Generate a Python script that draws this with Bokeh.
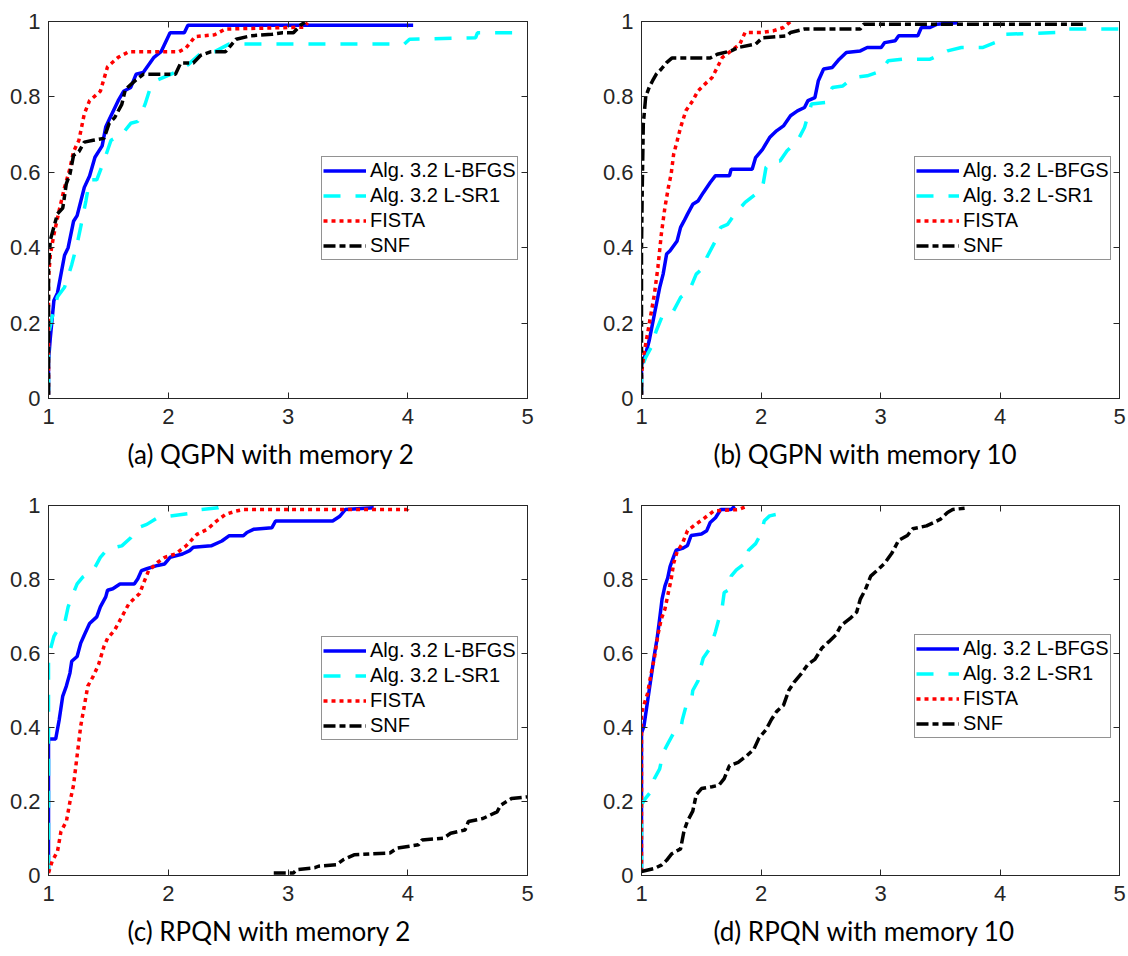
from bokeh.plotting import figure
from bokeh.layouts import gridplot
from bokeh.models import LinearAxis, FixedTicker, Range1d, CustomLabelingPolicy
from bokeh.embed import file_html
from bokeh.resources import INLINE

# ---------------- data (performance profiles) ----------------
X_TICKS = [1, 2, 3, 4, 5]
Y_TICKS = [0, 0.2, 0.4, 0.6, 0.8, 1]
SERIES_NAMES = ["Alg. 3.2 L-BFGS", "Alg. 3.2 L-SR1", "FISTA", "SNF"]
TITLES = ["(a) QGPN with memory 2", "(b) QGPN with memory 10",
          "(c) RPQN with memory 2", "(d) RPQN with memory 10"]

# (a) QGPN, memory 2
A_BFGS_X = [1.0, 1.0, 1.015, 1.045, 1.075, 1.134, 1.164, 1.209, 1.239, 1.299, 1.343, 1.388, 1.448, 1.478, 1.507, 1.582, 1.627, 1.687, 1.731, 1.791, 1.881, 1.940, 2.015, 2.134, 2.164, 4.045]
A_BFGS_Y = [0.01, 0.10, 0.16, 0.26, 0.28, 0.38, 0.40, 0.47, 0.485, 0.56, 0.59, 0.64, 0.67, 0.72, 0.74, 0.79, 0.815, 0.825, 0.86, 0.865, 0.905, 0.92, 0.97, 0.97, 0.99, 0.99]
A_SR1_X = [1.0, 1.0, 1.03, 1.075, 1.134, 1.194, 1.239, 1.269, 1.313, 1.343, 1.403, 1.463, 1.522, 1.612, 1.687, 1.746, 1.806, 1.851, 1.910, 1.985, 2.090, 2.164, 2.269, 2.388, 2.507, 3.970, 4.015, 4.567, 4.582, 5.0]
A_SR1_Y = [0.01, 0.17, 0.215, 0.27, 0.295, 0.355, 0.41, 0.455, 0.525, 0.58, 0.58, 0.63, 0.685, 0.70, 0.73, 0.735, 0.78, 0.825, 0.845, 0.855, 0.87, 0.885, 0.915, 0.92, 0.94, 0.94, 0.953, 0.957, 0.97, 0.97]
A_FISTA_X = [1.0, 1.0, 1.015, 1.045, 1.09, 1.134, 1.179, 1.209, 1.254, 1.299, 1.343, 1.433, 1.493, 1.582, 1.672, 2.090, 2.149, 2.224, 2.388, 2.478, 3.134, 3.164]
A_FISTA_Y = [0.01, 0.32, 0.38, 0.435, 0.50, 0.56, 0.61, 0.655, 0.685, 0.755, 0.79, 0.815, 0.88, 0.905, 0.92, 0.92, 0.93, 0.96, 0.965, 0.98, 0.985, 0.997]
A_SNF_X = [1.0, 1.0, 1.015, 1.045, 1.075, 1.119, 1.149, 1.179, 1.209, 1.254, 1.299, 1.373, 1.463, 1.507, 1.552, 1.612, 1.642, 1.731, 1.791, 2.060, 2.104, 2.209, 2.269, 2.358, 2.478, 2.567, 2.687, 2.866, 2.955, 3.045, 3.104, 3.149]
A_SNF_Y = [0.01, 0.35, 0.42, 0.455, 0.49, 0.505, 0.57, 0.595, 0.645, 0.655, 0.68, 0.685, 0.69, 0.73, 0.745, 0.78, 0.82, 0.845, 0.86, 0.86, 0.89, 0.89, 0.91, 0.92, 0.92, 0.953, 0.962, 0.966, 0.97, 0.97, 0.99, 1.0]

# (b) QGPN, memory 10
B_BFGS_X = [1.0, 1.0, 1.035, 1.064, 1.108, 1.152, 1.181, 1.21, 1.239, 1.298, 1.327, 1.356, 1.385, 1.429, 1.473, 1.517, 1.575, 1.619, 1.736, 1.75, 1.926, 1.955, 2.013, 2.072, 2.13, 2.188, 2.247, 2.305, 2.364, 2.393, 2.451, 2.48, 2.524, 2.597, 2.655, 2.714, 2.831, 2.889, 3.006, 3.035, 3.123, 3.152, 3.312, 3.342, 3.415, 3.473, 3.648]
B_BFGS_Y = [0.01, 0.09, 0.118, 0.153, 0.224, 0.294, 0.33, 0.383, 0.392, 0.418, 0.454, 0.471, 0.489, 0.515, 0.524, 0.546, 0.573, 0.591, 0.591, 0.608, 0.608, 0.639, 0.661, 0.692, 0.71, 0.723, 0.75, 0.763, 0.772, 0.79, 0.798, 0.843, 0.874, 0.878, 0.9, 0.918, 0.922, 0.931, 0.931, 0.944, 0.949, 0.962, 0.962, 0.984, 0.984, 0.993, 0.997]
B_SR1_X = [1.0, 1.0, 1.035, 1.079, 1.123, 1.181, 1.269, 1.327, 1.4, 1.458, 1.517, 1.546, 1.619, 1.663, 1.721, 1.78, 1.867, 1.955, 2.013, 2.042, 2.101, 2.159, 2.218, 2.305, 2.364, 2.422, 2.539, 2.597, 2.685, 2.772, 2.889, 3.006, 3.064, 3.181, 3.415, 3.502, 3.561, 3.677, 3.853, 4.0, 4.042, 4.495, 4.539, 5.0]
B_SR1_Y = [0.01, 0.08, 0.109, 0.135, 0.179, 0.224, 0.233, 0.268, 0.286, 0.33, 0.347, 0.374, 0.418, 0.454, 0.462, 0.489, 0.52, 0.542, 0.56, 0.613, 0.63, 0.63, 0.657, 0.683, 0.719, 0.781, 0.785, 0.825, 0.829, 0.851, 0.856, 0.869, 0.896, 0.9, 0.9, 0.913, 0.922, 0.931, 0.931, 0.949, 0.966, 0.971, 0.98, 0.98]
B_FISTA_X = [1.0, 1.0, 1.02, 1.05, 1.079, 1.108, 1.137, 1.166, 1.196, 1.225, 1.248, 1.269, 1.298, 1.327, 1.371, 1.429, 1.473, 1.531, 1.59, 1.634, 1.677, 1.75, 1.823, 1.867, 2.013, 2.101, 2.188, 2.247]
B_FISTA_Y = [0.01, 0.065, 0.118, 0.171, 0.224, 0.277, 0.347, 0.436, 0.507, 0.56, 0.595, 0.648, 0.683, 0.719, 0.763, 0.79, 0.816, 0.834, 0.851, 0.878, 0.905, 0.922, 0.94, 0.971, 0.971, 0.975, 0.984, 1.0]
B_SNF_X = [1.0, 1.0, 1.006, 1.015, 1.035, 1.064, 1.093, 1.123, 1.166, 1.21, 1.254, 1.575, 1.634, 1.75, 1.809, 1.955, 2.013, 2.218, 2.247, 2.364, 2.831, 2.86, 4.699, 4.714]
B_SNF_Y = [0.01, 0.40, 0.55, 0.727, 0.80, 0.825, 0.843, 0.86, 0.874, 0.891, 0.903, 0.903, 0.913, 0.922, 0.931, 0.94, 0.957, 0.962, 0.971, 0.98, 0.98, 0.993, 0.993, 1.0]

# (c) RPQN, memory 2
C_BFGS_X = [1.0, 1.0, 1.06, 1.09, 1.119, 1.149, 1.179, 1.194, 1.239, 1.269, 1.299, 1.343, 1.403, 1.433, 1.478, 1.493, 1.537, 1.597, 1.716, 1.746, 1.776, 1.821, 1.91, 1.97, 2.015, 2.119, 2.179, 2.209, 2.358, 2.448, 2.507, 2.627, 2.657, 2.716, 2.866, 2.896, 3.373, 3.433, 3.478, 3.716]
C_BFGS_Y = [0.01, 0.369, 0.369, 0.422, 0.485, 0.512, 0.547, 0.579, 0.592, 0.628, 0.65, 0.681, 0.699, 0.726, 0.753, 0.771, 0.775, 0.788, 0.788, 0.802, 0.824, 0.829, 0.838, 0.842, 0.86, 0.869, 0.878, 0.887, 0.891, 0.904, 0.918, 0.918, 0.927, 0.936, 0.94, 0.958, 0.958, 0.971, 0.989, 0.994]
C_SR1_X = [1.0, 1.0, 1.015, 1.045, 1.09, 1.134, 1.164, 1.194, 1.239, 1.284, 1.328, 1.388, 1.433, 1.493, 1.612, 1.687, 1.746, 1.821, 1.91, 2.209, 2.269, 2.418, 2.463]
C_SR1_Y = [0.01, 0.583, 0.61, 0.646, 0.672, 0.681, 0.726, 0.753, 0.788, 0.806, 0.815, 0.833, 0.86, 0.882, 0.891, 0.913, 0.94, 0.949, 0.967, 0.98, 0.989, 0.994, 1.0]
C_FISTA_X = [1.0, 1.03, 1.075, 1.104, 1.149, 1.179, 1.209, 1.239, 1.269, 1.299, 1.328, 1.373, 1.418, 1.463, 1.493, 1.552, 1.612, 1.672, 1.761, 1.791, 1.836, 1.91, 1.97, 2.06, 2.149, 2.239, 2.328, 2.403, 2.478, 2.567, 2.627, 4.0, 4.0]
C_FISTA_Y = [0.007, 0.038, 0.065, 0.119, 0.146, 0.199, 0.244, 0.324, 0.404, 0.458, 0.512, 0.538, 0.57, 0.619, 0.641, 0.663, 0.699, 0.735, 0.762, 0.788, 0.824, 0.846, 0.86, 0.869, 0.891, 0.922, 0.936, 0.958, 0.976, 0.985, 0.989, 0.989, 0.998]
C_SNF_X = [2.881, 3.045, 3.075, 3.224, 3.254, 3.403, 3.463, 3.552, 3.851, 3.91, 4.09, 4.119, 4.299, 4.358, 4.478, 4.507, 4.627, 4.746, 4.776, 4.866, 5.0]
C_SNF_Y = [0.007, 0.007, 0.016, 0.021, 0.025, 0.029, 0.043, 0.056, 0.061, 0.074, 0.083, 0.096, 0.101, 0.114, 0.123, 0.146, 0.154, 0.172, 0.19, 0.208, 0.2125]

# (d) RPQN, memory 10
D_BFGS_X = [1.0, 1.0, 1.02, 1.044, 1.064, 1.088, 1.108, 1.131, 1.152, 1.172, 1.196, 1.219, 1.239, 1.269, 1.289, 1.342, 1.385, 1.415, 1.502, 1.546, 1.575, 1.619, 1.663, 1.75, 1.78]
D_BFGS_Y = [0.01, 0.385, 0.403, 0.456, 0.5, 0.553, 0.597, 0.641, 0.694, 0.747, 0.782, 0.804, 0.835, 0.862, 0.879, 0.884, 0.892, 0.919, 0.923, 0.932, 0.954, 0.967, 0.989, 0.989, 0.998]
D_SR1_X = [1.0, 1.0, 1.035, 1.079, 1.108, 1.152, 1.181, 1.225, 1.269, 1.327, 1.342, 1.371, 1.415, 1.429, 1.473, 1.488, 1.517, 1.575, 1.619, 1.648, 1.677, 1.692, 1.736, 1.75, 1.794, 1.867, 1.896, 1.955, 1.999, 2.028, 2.072, 2.13, 2.174, 2.218]
D_SR1_Y = [0.01, 0.191, 0.209, 0.227, 0.262, 0.288, 0.332, 0.359, 0.385, 0.394, 0.421, 0.456, 0.465, 0.5, 0.526, 0.553, 0.588, 0.615, 0.659, 0.694, 0.729, 0.765, 0.773, 0.809, 0.826, 0.844, 0.879, 0.897, 0.923, 0.959, 0.972, 0.976, 0.981, 0.981]
D_FISTA_X = [1.0, 1.0, 1.015, 1.05, 1.079, 1.108, 1.137, 1.166, 1.196, 1.225, 1.248, 1.269, 1.298, 1.342, 1.385, 1.458, 1.531, 1.604, 1.809, 1.882]
D_FISTA_Y = [0.01, 0.438, 0.456, 0.491, 0.544, 0.588, 0.65, 0.694, 0.72, 0.765, 0.8, 0.844, 0.875, 0.897, 0.932, 0.95, 0.967, 0.985, 0.989, 0.998]
D_SNF_X = [1.0, 1.108, 1.166, 1.21, 1.254, 1.327, 1.356, 1.385, 1.429, 1.458, 1.502, 1.59, 1.648, 1.692, 1.736, 1.809, 1.882, 1.94, 1.984, 2.042, 2.086, 2.13, 2.188, 2.232, 2.276, 2.334, 2.393, 2.451, 2.51, 2.568, 2.626, 2.67, 2.743, 2.801, 2.831, 2.874, 2.918, 2.977, 3.035, 3.093, 3.152, 3.225, 3.269, 3.385, 3.444, 3.502, 3.561, 3.604, 3.736]
D_SNF_Y = [0.011, 0.019, 0.028, 0.041, 0.059, 0.072, 0.121, 0.147, 0.174, 0.218, 0.235, 0.24, 0.244, 0.262, 0.297, 0.306, 0.324, 0.341, 0.372, 0.394, 0.421, 0.443, 0.46, 0.5, 0.522, 0.544, 0.571, 0.584, 0.615, 0.632, 0.65, 0.676, 0.694, 0.712, 0.747, 0.773, 0.809, 0.826, 0.844, 0.87, 0.906, 0.919, 0.937, 0.945, 0.954, 0.963, 0.981, 0.989, 0.994]

PANELS = [
    [(A_BFGS_X, A_BFGS_Y), (A_SR1_X, A_SR1_Y), (A_FISTA_X, A_FISTA_Y), (A_SNF_X, A_SNF_Y)],
    [(B_BFGS_X, B_BFGS_Y), (B_SR1_X, B_SR1_Y), (B_FISTA_X, B_FISTA_Y), (B_SNF_X, B_SNF_Y)],
    [(C_BFGS_X, C_BFGS_Y), (C_SR1_X, C_SR1_Y), (C_FISTA_X, C_FISTA_Y), (C_SNF_X, C_SNF_Y)],
    [(D_BFGS_X, D_BFGS_Y), (D_SR1_X, D_SR1_Y), (D_FISTA_X, D_FISTA_Y), (D_SNF_X, D_SNF_Y)],
]

# ---------------- styles ----------------
COLORS = ["#0000FF", "#00FFFF", "#FF0000", "#000000"]
DASHES = ["solid", "17 15", "4 4", "12 4 6 4"]
LW = 3.5
AX = "#262626"
TICK_FONT = "Liberation Sans"
TITLE_FONT = "Lato"

# width, height, left, right, top, bottom, legend offset (x, y) from frame bottom-left, title x offset
GEOM = [
    (584, 480, 48, 57, 21, 82, (273, 138), 79),
    (544, 480, 57, 9, 20, 82, (273, 138), 72),
    (584, 476, 48, 57, 25, 78, (273, 135), 79),
    (544, 476, 57, 9, 24, 74, (273, 137), 72),
]


def style_axis(ax, show_labels):
    ax.axis_line_color = AX
    ax.axis_line_width = 1
    ax.major_tick_line_color = AX
    ax.major_tick_line_width = 1
    ax.major_tick_in = 6
    ax.major_tick_out = 0
    ax.minor_tick_line_color = None
    ax.major_label_text_font = TICK_FONT
    if show_labels:
        ax.major_label_text_font_size = "22px"
        ax.major_label_text_color = AX
    else:
        ax.major_label_text_font_size = "0px"
        ax.major_label_policy = CustomLabelingPolicy(code="return new Set()")
        ax.major_label_standoff = 0


def make_panel(i):
    w, h, l, r, t, b, legloc, toff = GEOM[i]
    p = figure(width=w, height=h, output_backend="svg", toolbar_location=None,
               x_range=Range1d(1, 5), y_range=Range1d(0, 1),
               title=TITLES[i], title_location="below",
               min_border_left=l, min_border_right=r, min_border_top=t, min_border_bottom=b)
    p.background_fill_color = "white"
    p.border_fill_color = "white"
    p.outline_line_color = AX
    p.outline_line_width = 1
    p.xgrid.visible = False
    p.ygrid.visible = False

    p.xaxis.ticker = FixedTicker(ticks=X_TICKS)
    p.yaxis.ticker = FixedTicker(ticks=Y_TICKS)
    p.yaxis.major_label_overrides = {0: "0", 1: "1"}
    style_axis(p.xaxis[0], True)
    style_axis(p.yaxis[0], True)
    p.xaxis.major_label_standoff = 10
    p.yaxis.major_label_standoff = 8

    top = LinearAxis(ticker=FixedTicker(ticks=X_TICKS))
    right = LinearAxis(ticker=FixedTicker(ticks=Y_TICKS))
    style_axis(top, False)
    style_axis(right, False)
    p.add_layout(top, "above")
    p.add_layout(right, "right")

    for k, (xs, ys) in enumerate(PANELS[i]):
        p.line(xs, ys, line_color=COLORS[k], line_width=LW, line_dash=DASHES[k],
               legend_label=SERIES_NAMES[k])

    lg = p.legend[0]
    lg.location = legloc
    lg.border_line_color = AX
    lg.border_line_width = 1
    lg.background_fill_color = "white"
    lg.background_fill_alpha = 1
    lg.label_text_font = TICK_FONT
    lg.label_text_font_size = "20px"
    lg.label_text_color = "black"
    lg.glyph_width = 43
    lg.glyph_height = 25
    lg.label_height = 25
    lg.label_standoff = 4
    lg.spacing = 0
    lg.padding = 1
    lg.margin = 0

    p.title.text_font = TITLE_FONT
    p.title.text_font_size = "26px"
    p.title.text_font_style = "normal"
    p.title.text_color = "black"
    p.title.align = "left"
    p.title.offset = toff
    p.title.standoff = 19
    return p


plots = [make_panel(i) for i in range(4)]
grid = gridplot([[plots[0], plots[1]], [plots[2], plots[3]]], toolbar_location=None)

open("out.html", "w").write(file_html(grid, INLINE))
